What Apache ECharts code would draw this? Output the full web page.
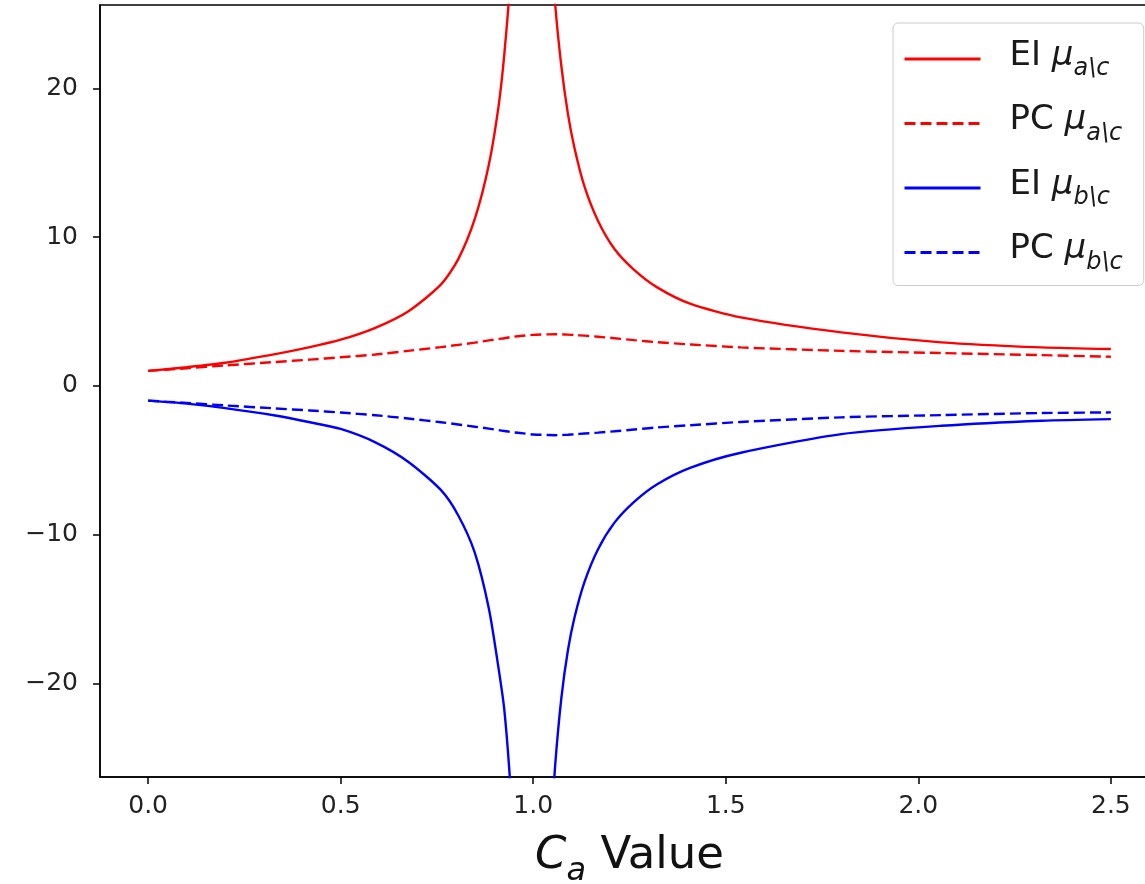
<!DOCTYPE html>
<html>
<head>
<meta charset="utf-8">
<script src="https://cdn.jsdelivr.net/npm/echarts@6/dist/echarts.min.js"></script>
<style>
  html, body { margin: 0; padding: 0; background: #fff; }
  #chart { width: 1145px; height: 884px; }
</style>
</head>
<body>
<div id="chart"></div>
<script>
// C_a values shared by all four curves (1.0 is the break of the EI curves)
const caValues = [0, 0.1, 0.2, 0.33, 0.42, 0.5, 0.59, 0.675, 0.76, 0.805, 0.848, 0.885, 0.91, 0.925, 0.94, 0.96,
  1.0, 1.04, 1.057, 1.073, 1.09, 1.107, 1.133, 1.168, 1.211, 1.262, 1.323, 1.409, 1.539, 1.8, 2.06, 2.32, 2.5];

const eiA = [1.0, 1.25, 1.55, 2.13, 2.6, 3.1, 3.9, 5.0, 6.8, 8.5, 11.2, 14.9, 18.8, 22.3, 27.0, 35,
  null, 32, 25.65, 21.5, 18.3, 16.0, 13.4, 11.1, 9.2, 7.8, 6.6, 5.5, 4.6, 3.59, 2.92, 2.58, 2.47];
const pcA = [1.0, 1.18, 1.37, 1.6, 1.76, 1.92, 2.1, 2.35, 2.6, 2.75, 2.9, 3.05, 3.15, 3.2, 3.27, 3.33,
  3.42, 3.46, 3.47, 3.46, 3.44, 3.41, 3.37, 3.3, 3.2, 3.07, 2.93, 2.78, 2.58, 2.35, 2.2, 2.06, 1.95];
const eiB = [-1.0, -1.2, -1.5, -2.0, -2.45, -2.9, -3.8, -5.1, -7.0, -8.7, -11.2, -15.0, -19.0, -21.8, -26.6, -35,
  null, -32, -25.5, -21.0, -17.8, -15.6, -13.2, -11.0, -9.2, -7.8, -6.6, -5.5, -4.5, -3.25, -2.69, -2.35, -2.24];
const pcB = [-1.0, -1.15, -1.32, -1.52, -1.66, -1.8, -1.98, -2.2, -2.45, -2.6, -2.75, -2.88, -2.98, -3.04, -3.1, -3.16,
  -3.27, -3.31, -3.32, -3.31, -3.29, -3.26, -3.21, -3.15, -3.06, -2.94, -2.8, -2.65, -2.43, -2.12, -1.97, -1.83, -1.79];

const xTicks = [0, 0.5, 1.0, 1.5, 2.0, 2.5];
const yTicks = [-20, -10, 0, 10, 20];
const seriesNames = ['EI a', 'PC a', 'EI b', 'PC b'];

const chart = echarts.init(document.getElementById('chart'));
const font = 'DejaVu Sans';

function pairs(vals) {
  return caValues.map(function (c, i) { return [c, vals[i]]; });
}

function makeLine(name, vals, color, dashed) {
  return {
    name: name,
    type: 'line',
    data: pairs(vals),
    showSymbol: false,
    symbol: 'none',
    smooth: 0.25,
    connectNulls: false,
    clip: true,
    lineStyle: { color: color, width: 2.4, type: dashed ? [11, 5] : 'solid' },
    itemStyle: { color: color },
    emphasis: { disabled: true }
  };
}

const legendRich = {
  n: { fontFamily: font, fontSize: 34, lineHeight: 44, color: '#1a1a1a', verticalAlign: 'bottom', padding: [0, 0, 8, 0] },
  m: { fontFamily: font, fontSize: 34, lineHeight: 44, fontStyle: 'italic', color: '#1a1a1a', verticalAlign: 'bottom', padding: [0, 0, 8, 0] },
  s: { fontFamily: font, fontSize: 24, lineHeight: 44, fontStyle: 'italic', color: '#1a1a1a', verticalAlign: 'bottom', padding: [0, 0, 0, 0] }
};

chart.setOption({
  animation: false,
  backgroundColor: '#fff',
  grid: {
    left: 100, top: 5, right: -14, bottom: 107,
    outerBoundsMode: 'none',
    show: true, borderColor: '#000', borderWidth: 1.5, containLabel: false
  },
  legend: {
    left: 893, top: 23,
    orient: 'vertical',
    itemWidth: 76, itemHeight: 14,
    itemGap: 22.5,
    padding: [16, 21, 11, 10],
    itemStyle: { opacity: 0, color: 'rgba(0,0,0,0)', borderWidth: 0 },
    lineStyle: { width: 3 },
    backgroundColor: 'rgba(255,255,255,0.8)',
    borderColor: '#cccccc', borderWidth: 1, borderRadius: 5,
    selectedMode: false,
    data: seriesNames,
    textStyle: { rich: legendRich, padding: [0, 0, 0, 24] },
    formatter: function (name) {
      const parts = name.split(' ');
      return '{n|' + parts[0] + ' }{m|μ}{s|' + parts[1] + '\\c}';
    }
  },
  xAxis: {
    type: 'value',
    min: -0.125, max: 2.625,
    splitLine: { show: false },
    axisLine: { show: true, onZero: false, lineStyle: { color: '#000', width: 1.5 } },
    axisTick: { show: true, customValues: xTicks, length: 7, lineStyle: { color: '#000', width: 1.5 } },
    axisLabel: {
      customValues: xTicks, margin: 17,
      fontFamily: font, fontSize: 25, color: '#222',
      formatter: function (v) { return v.toFixed(1); }
    },
    name: '{c|C}{a|a}{v| Value}',
    nameLocation: 'middle',
    nameGap: 57,
    nameTextStyle: {
      rich: {
        c: { fontFamily: font, fontSize: 45, fontStyle: 'italic', color: '#111', verticalAlign: 'bottom', padding: [0, 0, 9, 0] },
        a: { fontFamily: font, fontSize: 32, fontStyle: 'italic', color: '#111', verticalAlign: 'bottom' },
        v: { fontFamily: font, fontSize: 45, color: '#111', verticalAlign: 'bottom', padding: [0, 0, 9, 0] }
      }
    }
  },
  yAxis: {
    type: 'value',
    min: -26.3, max: 25.6,
    splitLine: { show: false },
    axisLine: { show: true, onZero: false, lineStyle: { color: '#000', width: 1.5 } },
    axisTick: { show: true, customValues: yTicks, length: 7, lineStyle: { color: '#000', width: 1.5 } },
    axisLabel: {
      customValues: yTicks, margin: 22,
      fontFamily: font, fontSize: 25, color: '#222',
      formatter: function (v) { return v < 0 ? '\u2212' + Math.abs(v) : String(v); }
    }
  },
  series: [
    makeLine(seriesNames[0], eiA, '#ff0000', false),
    makeLine(seriesNames[1], pcA, '#ff0000', true),
    makeLine(seriesNames[2], eiB, '#0000ff', false),
    makeLine(seriesNames[3], pcB, '#0000ff', true)
  ]
});
</script>
</body>
</html>
